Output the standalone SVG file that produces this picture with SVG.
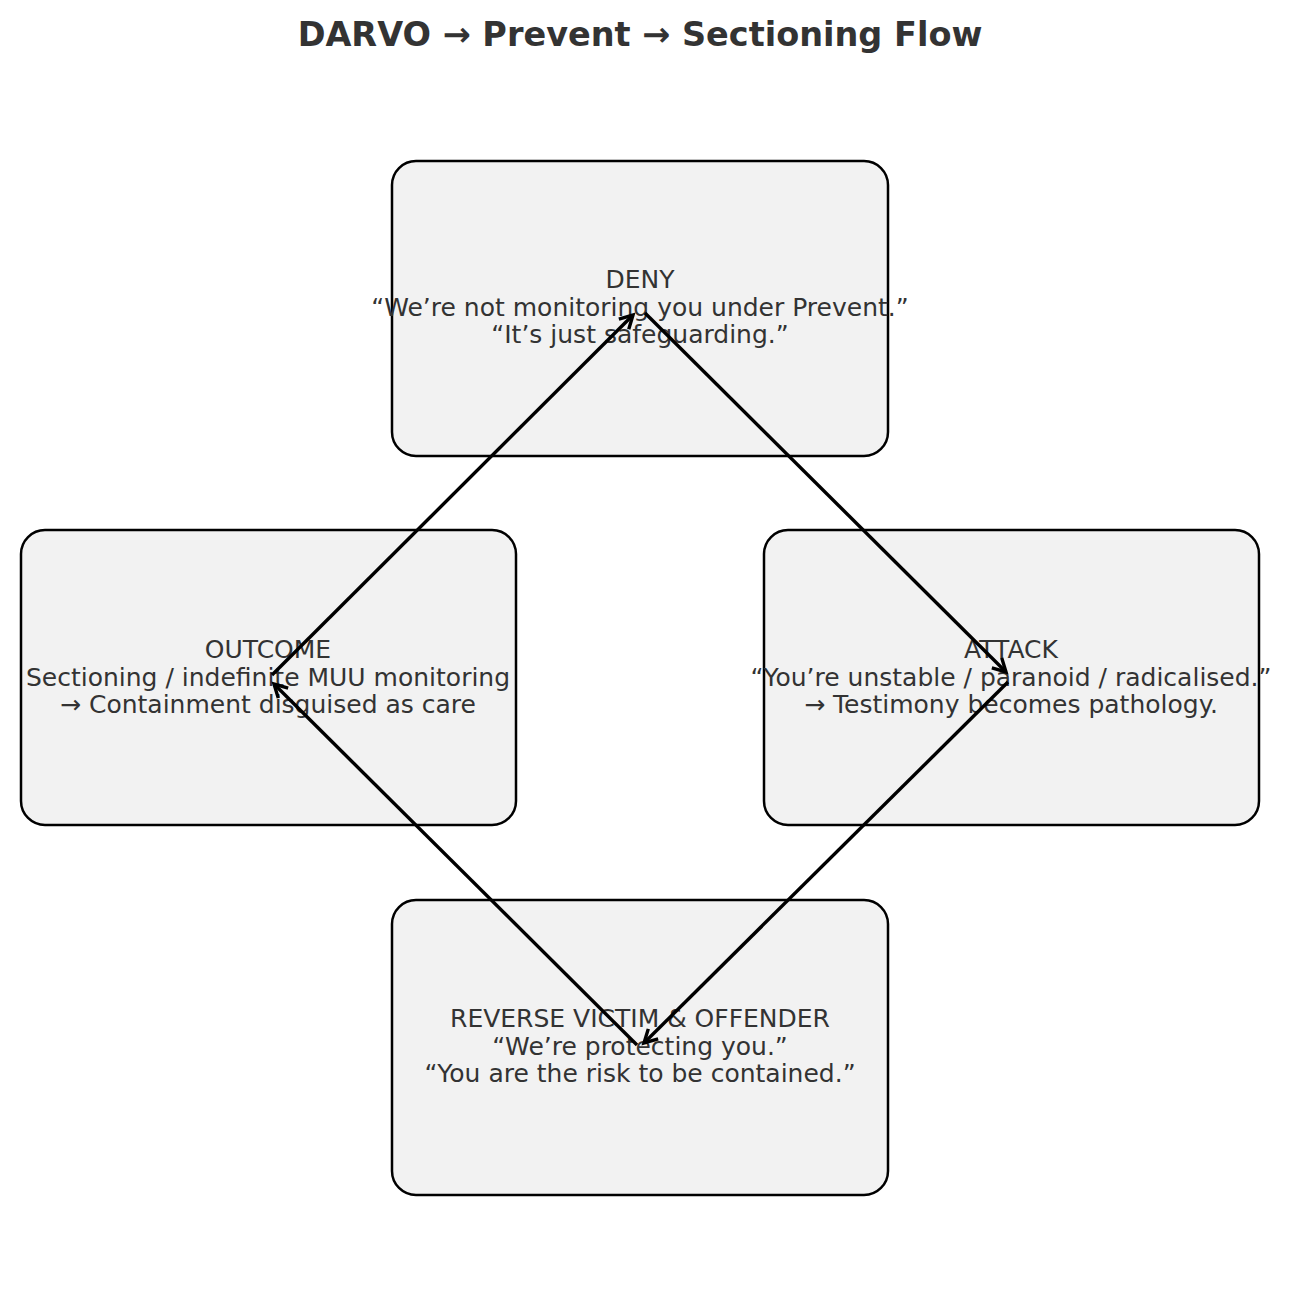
<svg xmlns="http://www.w3.org/2000/svg" width="1292" height="1314" viewBox="0 0 1292 1314">
<style>
.box{fill:#f2f2f2;stroke:#000;stroke-width:2.5}
.t{font-family:"DejaVu Sans",sans-serif;font-size:25px;fill:#333;text-anchor:middle}
.title{font-family:"DejaVu Sans",sans-serif;font-size:33.5px;font-weight:bold;fill:#333;text-anchor:middle}
.edge{stroke:#000;stroke-width:3.4;fill:none;marker-end:url(#ah)}
</style>
<defs>
<marker id="ah" markerUnits="userSpaceOnUse" markerWidth="30" markerHeight="30" viewBox="-15 -15 30 30" refX="0" refY="0" orient="auto">
<path d="M-13,-7 L0,0 L-13,7" fill="none" stroke="#000" stroke-width="3.4" stroke-linejoin="miter"/>
</marker>
</defs>
<rect width="1292" height="1314" fill="#fff"/>
<text class="title" x="640" y="46">DARVO → Prevent → Sectioning Flow</text>
<g id="deny">
<rect class="box" x="392" y="161" width="496" height="295" rx="24"/>
<text class="t" x="640" y="288">DENY</text>
<text class="t" x="640" y="316">“We’re not monitoring you under Prevent.”</text>
<text class="t" x="640" y="343">“It’s just safeguarding.”</text>
</g>
<g id="attack">
<rect class="box" x="764" y="530" width="495" height="295" rx="24"/>
<text class="t" x="1011" y="658">ATTACK</text>
<text class="t" x="1011" y="686">“You’re unstable / paranoid / radicalised.”</text>
<text class="t" x="1011" y="713">→ Testimony becomes pathology.</text>
</g>
<g id="outcome">
<rect class="box" x="21" y="530" width="495" height="295" rx="24"/>
<text class="t" x="268" y="658">OUTCOME</text>
<text class="t" x="268" y="686">Sectioning / indefinite MUU monitoring</text>
<text class="t" x="268" y="713">→ Containment disguised as care</text>
</g>
<g id="reverse">
<rect class="box" x="392" y="900" width="496" height="295" rx="24"/>
<text class="t" x="640" y="1027">REVERSE VICTIM &amp; OFFENDER</text>
<text class="t" x="640" y="1055">“We’re protecting you.”</text>
<text class="t" x="640" y="1082">“You are the risk to be contained.”</text>
</g>
<g id="connectors">
<line class="edge" x1="645" y1="313" x2="1006" y2="672"/>
<line class="edge" x1="1008" y1="682" x2="644" y2="1043"/>
<line class="edge" x1="637" y1="1045" x2="274" y2="684"/>
<line class="edge" x1="272" y1="675" x2="633" y2="315"/>
</g>
</svg>
